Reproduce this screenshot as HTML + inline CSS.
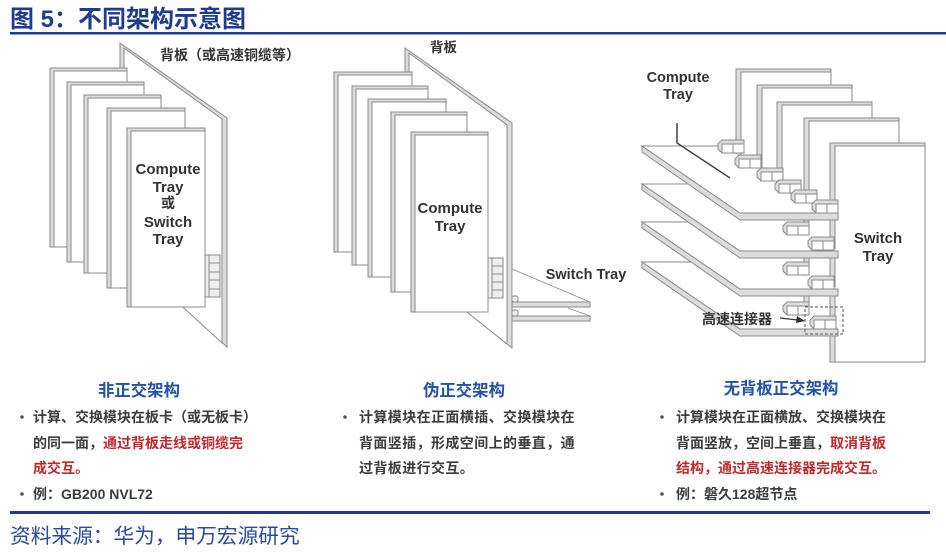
<!DOCTYPE html>
<html><head><meta charset="utf-8"><style>
html,body{margin:0;padding:0;background:#fff;width:946px;height:553px;overflow:hidden}
svg{display:block}
text{font-family:"Liberation Sans","Noto Sans CJK SC",sans-serif}
.cjk{font-family:"Liberation Sans","Noto Sans CJK SC",sans-serif}
</style></head><body>
<svg width="946" height="553" viewBox="0 0 946 553" xmlns="http://www.w3.org/2000/svg">
<!-- title -->
<text x="10" y="27" font-size="24" font-weight="bold" fill="#1e3c8f">图 5：不同架构示意图</text>
<rect x="10" y="32" width="936" height="2.5" fill="#1e3c8f"/>

<g stroke="#8a8a8a" stroke-width="1">
<!-- LEFT backplane -->
<polygon points="120,43 227,118 227,347 120,249" fill="#dcdcdc"/>
<polygon points="124,48 222,119 222,343 124,253" fill="#fff"/>
<!-- LEFT cards -->
<rect x="50" y="68" width="77" height="179" fill="#dcdcdc"/><rect x="54" y="71" width="73" height="176" fill="#fff"/>
<rect x="67" y="82" width="77" height="180" fill="#dcdcdc"/><rect x="71" y="85" width="73" height="177" fill="#fff"/>
<rect x="84" y="95" width="77" height="178" fill="#dcdcdc"/><rect x="88" y="98" width="73" height="175" fill="#fff"/>
<rect x="107" y="108" width="78" height="180" fill="#dcdcdc"/><rect x="111" y="111" width="74" height="177" fill="#fff"/>
<rect x="127" y="128" width="78" height="179" fill="#dcdcdc"/><rect x="131" y="131" width="74" height="176" fill="#fff"/>
<!-- left connector -->
<rect x="205" y="255" width="15" height="42" fill="#eee"/>
<line x1="209" y1="255" x2="209" y2="297"/>
<line x1="209" y1="263" x2="220" y2="263"/><line x1="209" y1="272" x2="220" y2="272"/><line x1="209" y1="280" x2="220" y2="280"/><line x1="209" y1="289" x2="220" y2="289"/>

<!-- MIDDLE backplane -->
<polygon points="405,48 512,123 512,348 405,262" fill="#dcdcdc"/>
<polygon points="409,53 507,125 507,344 409,266" fill="#fff"/>
<!-- MIDDLE cards -->
<rect x="334" y="72" width="78" height="180" fill="#dcdcdc"/><rect x="338" y="75" width="74" height="177" fill="#fff"/>
<rect x="352" y="86" width="76" height="179" fill="#dcdcdc"/><rect x="356" y="89" width="72" height="176" fill="#fff"/>
<rect x="368" y="99" width="78" height="178" fill="#dcdcdc"/><rect x="372" y="102" width="74" height="175" fill="#fff"/>
<rect x="391" y="112" width="76" height="180" fill="#dcdcdc"/><rect x="395" y="115" width="72" height="177" fill="#fff"/>
<rect x="411" y="132" width="77" height="180" fill="#dcdcdc"/><rect x="415" y="135" width="73" height="177" fill="#fff"/>
<!-- middle connector -->
<rect x="488" y="258" width="15" height="40" fill="#eee"/>
<line x1="492" y1="258" x2="492" y2="298"/>
<line x1="492" y1="266" x2="503" y2="266"/><line x1="492" y1="274" x2="503" y2="274"/><line x1="492" y1="282" x2="503" y2="282"/><line x1="492" y1="290" x2="503" y2="290"/>
<!-- switch trays (middle) -->
<polygon points="512,269 590,302 512,302" fill="#fff" stroke-width="0.8"/>
<line x1="568" y1="308" x2="590" y2="316" stroke-width="0.8"/>
<rect x="512" y="302" width="78" height="5" fill="#dcdcdc"/>
<rect x="512" y="316" width="78" height="5" fill="#dcdcdc"/>
<rect x="512" y="296" width="6" height="6" rx="2" fill="#eee"/>
<rect x="512" y="310" width="6" height="6" rx="2" fill="#eee"/>

<!-- RIGHT vertical cards -->
<rect x="736" y="69" width="95" height="256" fill="#dcdcdc"/><rect x="741" y="72" width="90" height="253" fill="#fff"/>
<rect x="757" y="85" width="95" height="240" fill="#dcdcdc"/><rect x="762" y="88" width="90" height="237" fill="#fff"/>
<rect x="777" y="102" width="95" height="223" fill="#dcdcdc"/><rect x="782" y="105" width="90" height="220" fill="#fff"/>
<rect x="804" y="118" width="95" height="207" fill="#dcdcdc"/><rect x="809" y="121" width="90" height="204" fill="#fff"/>
<rect x="830" y="143" width="95" height="219" fill="#dcdcdc"/><rect x="835" y="146" width="90" height="216" fill="#fff"/>

<!-- Plate 4 -->
<polygon points="642,262 740,329 838,329 838,336 740,336 642,268" fill="#dcdcdc"/>
<polygon points="642,262 722,262 838,329 740,329" fill="#fff" stroke="none"/>
<polyline points="722,262 642,262 740,329 838,329" fill="none"/>
<g><polygon points="783,306 787,302 809,302 809,315 787,315 783,311" fill="#ddd"/><rect x="787" y="306" width="22" height="9" fill="#fff"/><line x1="798" y1="306" x2="798" y2="315"/></g>
<g><polygon points="810,320 814,316 836,316 836,329 814,329 810,325" fill="#ddd"/><rect x="814" y="320" width="22" height="9" fill="#fff"/><line x1="825" y1="320" x2="825" y2="329"/></g>

<!-- Plate 3 -->
<polygon points="642,222 740,289 838,289 838,296 740,296 642,228" fill="#dcdcdc"/>
<polygon points="642,222 722,222 838,289 740,289" fill="#fff" stroke="none"/>
<polyline points="722,222 642,222 740,289 838,289" fill="none"/>
<g><polygon points="783,266 787,262 809,262 809,275 787,275 783,271" fill="#ddd"/><rect x="787" y="266" width="22" height="9" fill="#fff"/><line x1="798" y1="266" x2="798" y2="275"/></g>
<g><polygon points="808,280 812,276 834,276 834,289 812,289 808,285" fill="#ddd"/><rect x="812" y="280" width="22" height="9" fill="#fff"/><line x1="823" y1="280" x2="823" y2="289"/></g>

<!-- Plate 2 -->
<polygon points="642,184 740,251 838,251 838,258 740,258 642,190" fill="#dcdcdc"/>
<polygon points="642,184 722,184 838,251 740,251" fill="#fff" stroke="none"/>
<polyline points="722,184 642,184 740,251 838,251" fill="none"/>
<g><polygon points="783,226 787,222 809,222 809,235 787,235 783,231" fill="#ddd"/><rect x="787" y="226" width="22" height="9" fill="#fff"/><line x1="798" y1="226" x2="798" y2="235"/></g>
<g><polygon points="808,241 812,237 834,237 834,250 812,250 808,246" fill="#ddd"/><rect x="812" y="241" width="22" height="9" fill="#fff"/><line x1="823" y1="241" x2="823" y2="250"/></g>

<!-- Plate 1 -->
<polygon points="642,146 740,213 838,213 838,220 740,220 642,152" fill="#dcdcdc"/>
<polygon points="642,146 722,146 838,213 740,213" fill="#fff" stroke="none"/>
<polyline points="722,146 642,146 740,213 838,213" fill="none"/>
<g><polygon points="718,144 722,140 744,140 744,153 722,153 718,149" fill="#ddd"/><rect x="722" y="144" width="22" height="9" fill="#fff"/><line x1="733" y1="144" x2="733" y2="153"/></g>
<g><polygon points="735,159 739,155 761,155 761,168 739,168 735,164" fill="#ddd"/><rect x="739" y="159" width="22" height="9" fill="#fff"/><line x1="750" y1="159" x2="750" y2="168"/></g>
<g><polygon points="757,172 761,168 783,168 783,181 761,181 757,177" fill="#ddd"/><rect x="761" y="172" width="22" height="9" fill="#fff"/><line x1="772" y1="172" x2="772" y2="181"/></g>
<g><polygon points="775,184 779,180 801,180 801,193 779,193 775,189" fill="#ddd"/><rect x="779" y="184" width="22" height="9" fill="#fff"/><line x1="790" y1="184" x2="790" y2="193"/></g>
<g><polygon points="791,194 795,190 817,190 817,203 795,203 791,199" fill="#ddd"/><rect x="795" y="194" width="22" height="9" fill="#fff"/><line x1="806" y1="194" x2="806" y2="203"/></g>
<g><polygon points="812,204 816,200 838,200 838,213 816,213 812,209" fill="#ddd"/><rect x="816" y="204" width="22" height="9" fill="#fff"/><line x1="827" y1="204" x2="827" y2="213"/></g>
</g>

<!-- leader line & dashed rect & arrow -->
<polyline points="677,123 677,143 730,178" fill="none" stroke="#444" stroke-width="1.5"/>
<rect x="805" y="307" width="38" height="27" fill="none" stroke="#555" stroke-width="1" stroke-dasharray="3,2"/>
<line x1="780" y1="318" x2="798" y2="320" stroke="#333" stroke-width="1.3"/>
<polygon points="805,321 797,316 796,323" fill="#333"/>

<!-- diagram labels -->
<g font-weight="bold" fill="#333" text-anchor="middle" font-size="15">
<text x="168" y="174">Compute</text>
<text x="168" y="192">Tray</text>
<text x="168" y="208" font-size="14">或</text>
<text x="168" y="227">Switch</text>
<text x="168" y="244">Tray</text>
<text x="450" y="213">Compute</text>
<text x="450" y="231">Tray</text>
<text x="878" y="243">Switch</text>
<text x="878" y="261">Tray</text>
<text x="678" y="82" font-size="14.5">Compute</text>
<text x="678" y="99" font-size="14.5">Tray</text>
<text x="586" y="279" font-size="14.5">Switch Tray</text>
</g>
<text x="160" y="60" font-size="14" fill="#333" font-weight="bold">背板（或高速铜缆等）</text>
<text x="430" y="52" font-size="13.5" fill="#333" font-weight="bold">背板</text>
<text x="702" y="324" font-size="14" fill="#333" font-weight="bold">高速连接器</text>

<!-- headings -->
<g font-size="16.4" font-weight="bold" fill="#2352a8" text-anchor="middle">
<text x="139" y="396">非正交架构</text>
<text x="464" y="396">伪正交架构</text>
<text x="781" y="394">无背板正交架构</text>
</g>

<!-- body text -->
<g font-size="14" font-weight="bold" fill="#3c3c3c">
<circle cx="22" cy="417" r="1.8" fill="#555"/>
<text x="33" y="422">计算、交换模块在板卡（或无板卡）</text>
<text x="33" y="448">的同一面，<tspan fill="#c0282d">通过背板走线或铜缆完</tspan></text>
<text x="33" y="473" fill="#c0282d">成交互。</text>
<circle cx="22" cy="494" r="1.8" fill="#555"/>
<text x="33" y="499">例：GB200 NVL72</text>

<circle cx="345" cy="417" r="1.8" fill="#555"/>
<text x="359" y="422" letter-spacing="0.4">计算模块在正面横插、交换模块在</text>
<text x="359" y="448" letter-spacing="0.4">背面竖插，形成空间上的垂直，通</text>
<text x="359" y="473" letter-spacing="0.4">过背板进行交互。</text>

<circle cx="662" cy="417" r="1.8" fill="#555"/>
<text x="676" y="422">计算模块在正面横放、交换模块在</text>
<text x="676" y="448">背面竖放，空间上垂直，<tspan fill="#c0282d">取消背板</tspan></text>
<text x="676" y="473" fill="#c0282d">结构，通过高速连接器完成交互。</text>
<circle cx="662" cy="494" r="1.8" fill="#555"/>
<text x="676" y="499">例：磐久128超节点</text>
</g>

<!-- bottom line & source -->
<rect x="10" y="511" width="920" height="3" fill="#1e3c8f"/>
<text x="10" y="543" font-size="20.7" fill="#2a4a9f">资料来源：华为，申万宏源研究</text>
</svg>
</body></html>
